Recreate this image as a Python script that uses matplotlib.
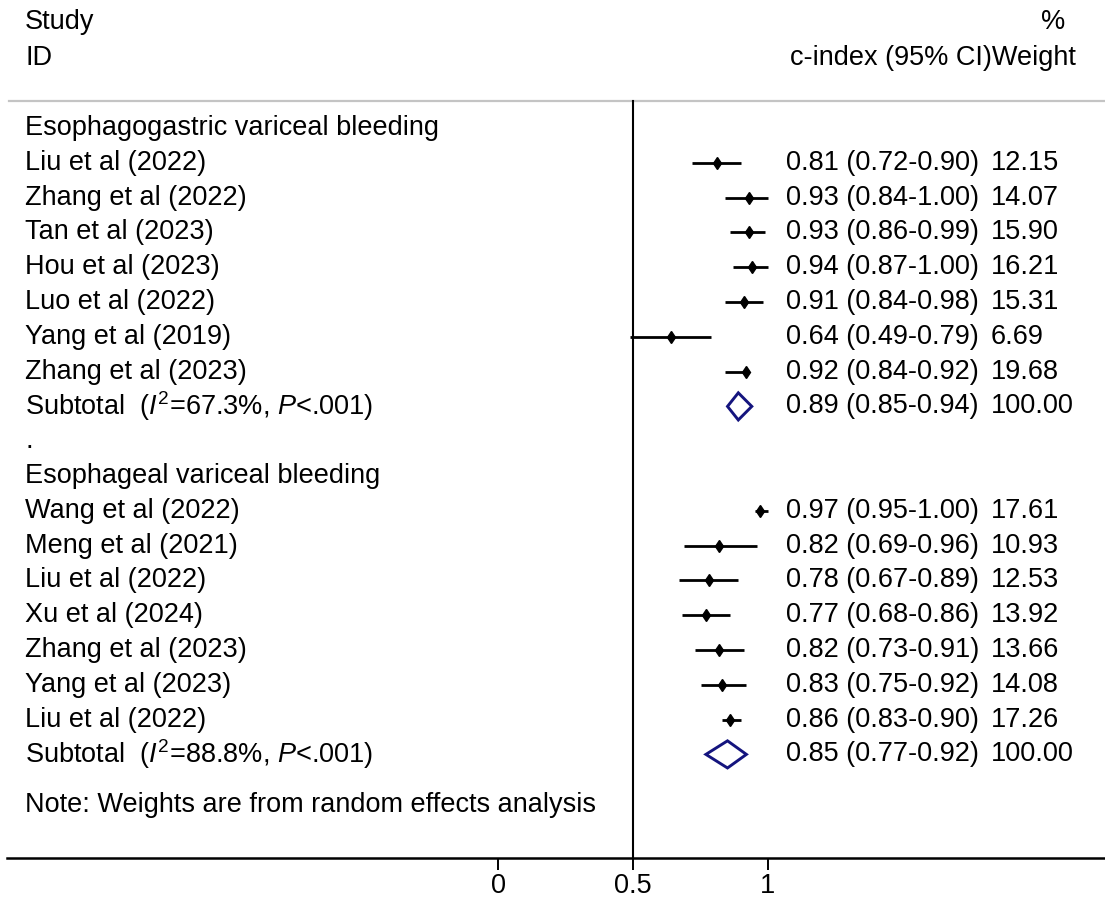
import matplotlib
matplotlib.use("Agg")
import matplotlib.pyplot as plt
from matplotlib.patches import Polygon

plt.rcParams['font.family'] = ['Liberation Sans', 'DejaVu Sans']
plt.rcParams['mathtext.fontset'] = 'custom'
plt.rcParams['mathtext.rm'] = 'Liberation Sans'
plt.rcParams['mathtext.it'] = 'Liberation Sans:italic'

# ---- data ----
group_names = ["Esophagogastric variceal bleeding", "Esophageal variceal bleeding"]

g1_studies = ["Liu et al (2022)", "Zhang et al (2022)", "Tan et al (2023)", "Hou et al (2023)",
              "Luo et al (2022)", "Yang et al (2019)", "Zhang et al (2023)"]
g1_est = [0.81, 0.93, 0.93, 0.94, 0.91, 0.64, 0.92]
g1_lo = [0.72, 0.84, 0.86, 0.87, 0.84, 0.49, 0.84]
g1_hi = [0.90, 1.00, 0.99, 1.00, 0.98, 0.79, 0.92]
g1_w = [12.15, 14.07, 15.90, 16.21, 15.31, 6.69, 19.68]
g1_sub = (0.89, 0.85, 0.94)
g1_i2 = "67.3%"

g2_studies = ["Wang et al (2022)", "Meng et al (2021)", "Liu et al (2022)", "Xu et al (2024)",
              "Zhang et al (2023)", "Yang et al (2023)", "Liu et al (2022)"]
g2_est = [0.97, 0.82, 0.78, 0.77, 0.82, 0.83, 0.86]
g2_lo = [0.95, 0.69, 0.67, 0.68, 0.73, 0.75, 0.83]
g2_hi = [1.00, 0.96, 0.89, 0.86, 0.91, 0.92, 0.90]
g2_w = [17.61, 10.93, 12.53, 13.92, 13.66, 14.08, 17.26]
g2_sub = (0.85, 0.77, 0.92)
g2_i2 = "88.8%"

xticks = [0, 0.5, 1]
xtick_labels = ["0", "0.5", "1"]
null_line = 0.5

# ---- layout ----
W, H = 1105, 899
fig = plt.figure(figsize=(W / 100, H / 100), dpi=100)
ax = fig.add_axes([0, 0, 1, 1])

px_per_unit = 270.0
x0_px = 498.0
row0_px = 128.0
row_px = 34.8


def xd(px):
    return (px - x0_px) / px_per_unit


def yd(py):
    return (py - row0_px) / row_px


ax.set_xlim(xd(0), xd(W))
ax.set_ylim(yd(H), yd(0))
for s in ['top', 'right', 'left']:
    ax.spines[s].set_visible(False)
ax.set_yticks([])

FS = 19.5
left_x = xd(25)
ci_x = xd(786)
w_x = xd(991)
navy = '#14147e'

y_axis = yd(858)
y_sep = yd(100.5)


def draw_group(start_row, name, studies, est, lo, hi, w, sub, i2):
    ax.text(left_x, start_row, name, fontsize=FS, va='center', ha='left')
    for i, (st, e, l, h, ww) in enumerate(zip(studies, est, lo, hi, w)):
        r = start_row + 1 + i
        ax.text(left_x, r, st, fontsize=FS, va='center', ha='left')
        ax.plot([l, h], [r, r], color='black', lw=2.0, solid_capstyle='butt', zorder=3)
        ax.plot([e], [r], marker='d', ms=6.5, color='black', zorder=4)
        ax.text(ci_x, r, f"{e:.2f} ({l:.2f}-{h:.2f})", fontsize=FS, va='center', ha='left')
        ax.text(w_x, r, f"{ww:.2f}", fontsize=FS, va='center', ha='left')
    r = start_row + 1 + len(studies)
    e, l, h = sub
    ax.text(left_x, r, "Subtotal  ($I^2$=" + i2 + ", $P$<.001)", fontsize=FS, va='center', ha='left')
    hh = 0.39
    diamond = Polygon([[l, r], [e, r - hh], [h, r], [e, r + hh]], closed=True,
                      facecolor='white', edgecolor=navy, lw=2.1, zorder=4)
    ax.add_patch(diamond)
    ax.text(ci_x, r, f"{e:.2f} ({l:.2f}-{h:.2f})", fontsize=FS, va='center', ha='left')
    ax.text(w_x, r, "100.00", fontsize=FS, va='center', ha='left')
    return r


r_end1 = draw_group(0, group_names[0], g1_studies, g1_est, g1_lo, g1_hi, g1_w, g1_sub, g1_i2)
ax.text(left_x, r_end1 + 1, ".", fontsize=FS, va='center', ha='left')
r_end2 = draw_group(r_end1 + 2, group_names[1], g2_studies, g2_est, g2_lo, g2_hi, g2_w, g2_sub, g2_i2)

ax.text(left_x, yd(805), "Note: Weights are from random effects analysis", fontsize=FS, va='center', ha='left')

# headers
ax.text(left_x, yd(22), "Study", fontsize=FS, va='center', ha='left')
ax.text(left_x, yd(58), "ID", fontsize=FS, va='center', ha='left')
ax.text(xd(1053), yd(22), "%", fontsize=FS, va='center', ha='center')
ax.text(xd(1076), yd(58), "c-index (95% CI)Weight", fontsize=FS, va='center', ha='right')

# separator line and null line
ax.plot([xd(9), xd(W)], [y_sep, y_sep], color='#c4c4c4', lw=1.6, zorder=2)
ax.plot([null_line, null_line], [y_sep, y_axis], color='black', lw=1.5, zorder=2)

# bottom axis
ax.spines['bottom'].set_position(('data', y_axis))
ax.spines['bottom'].set_bounds(xd(7), xd(W))
ax.spines['bottom'].set_linewidth(1.8)
ax.set_xticks(xticks)
ax.set_xticklabels(xtick_labels)
ax.tick_params(axis='x', direction='out', length=8.6, width=1.4, labelsize=FS, pad=2)

fig.savefig("out.png", dpi=100)
